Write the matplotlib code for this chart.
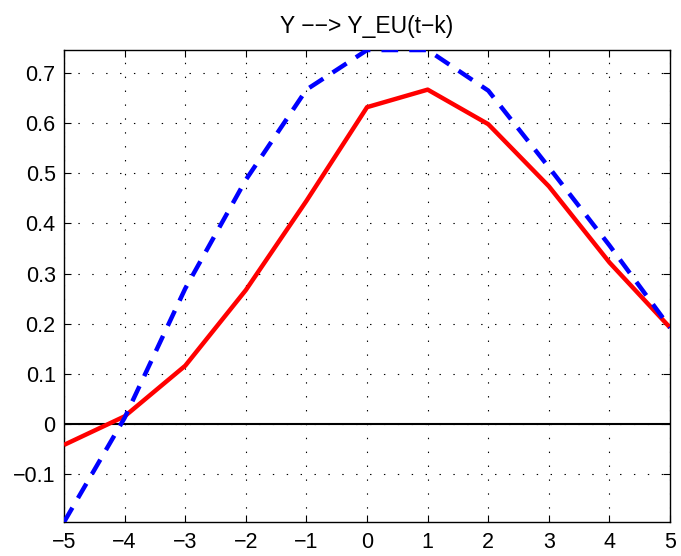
import matplotlib
matplotlib.use("Agg")
import matplotlib.pyplot as plt

plt.rcParams['font.family'] = ['Liberation Sans', 'DejaVu Sans']
plt.rcParams['lines.scale_dashes'] = False

# Lags k and the two response series
lags = [-5, -4, -3, -2, -1, 0, 1, 2, 3, 4, 5]
red_series = [-0.042, 0.015, 0.116, 0.267, 0.445, 0.632, 0.667, 0.598, 0.474, 0.322, 0.192]
blue_series = [-0.196, 0.012, 0.270, 0.487, 0.667, 0.746, 0.746, 0.665, 0.512, 0.356, 0.192]

xticks = [-5, -4, -3, -2, -1, 0, 1, 2, 3, 4, 5]
yticks = [-0.1, 0, 0.1, 0.2, 0.3, 0.4, 0.5, 0.6, 0.7]
ytick_labels = ['\u22120.1', '0', '0.1', '0.2', '0.3', '0.4', '0.5', '0.6', '0.7']
xtick_labels = [('\u2212%d' % -v) if v < 0 else str(v) for v in xticks]

fig = plt.figure(figsize=(6.81, 5.56), dpi=100)
ax = fig.add_axes([0.094, 0.061, 0.890, 0.849])

ax.axhline(0, color='black', lw=1.5, zorder=2)
ax.plot(lags, red_series, color='red', lw=3.2, solid_capstyle='butt', zorder=3)
ax.plot(lags, blue_series, color='blue', lw=3.2, linestyle=(0, (12, 8)),
        dash_capstyle='butt', zorder=4)

ax.set_xlim(-5, 5)
ax.set_ylim(min(blue_series), max(blue_series))
ax.set_xticks(xticks)
ax.set_xticklabels(xtick_labels)
ax.set_yticks(yticks)
ax.set_yticklabels(ytick_labels)

ax.grid(True, color='black', lw=0.8, linestyle=(0, (1, 9)))
ax.tick_params(direction='in', length=5, width=0.8, top=True, right=True,
               labelsize=15.5, pad=6)
ax.tick_params(axis='x', pad=7)
for s in ax.spines.values():
    s.set_linewidth(1.0)
ax.set_title('Y \u2212\u2212> Y_EU(t\u2212k)', fontsize=16.5, pad=12)

fig.savefig('out.png', dpi=100)
